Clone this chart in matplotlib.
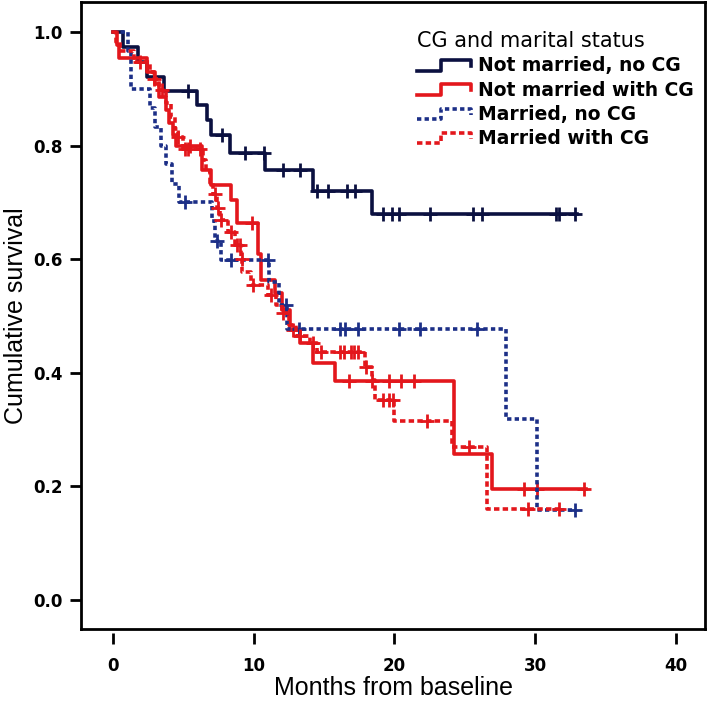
import numpy as np
from matplotlib import pyplot as plt
from matplotlib.legend_handler import HandlerBase
from matplotlib.lines import Line2D

# Kaplan-Meier steps (months, cumulative survival)
nm_nocg_t = [0, 0.7, 1.8, 2.4, 3.6, 5.95, 6.7, 7.0, 8.3, 10.8, 14.2, 18.4]
nm_nocg_s = [1.0, 0.974, 0.948, 0.921, 0.897, 0.871, 0.845, 0.819, 0.787, 0.757, 0.72, 0.68]
nm_nocg_end = 33.0
nm_nocg_cens = [5.35, 7.72, 9.4, 10.7, 12.1, 13.3, 14.5, 15.3, 16.6, 17.2,
                19.2, 19.8, 20.3, 22.5, 25.6, 26.2, 31.5, 31.7, 32.8]

nm_cg_t = [0, 0.3, 0.45, 2.4, 3.0, 3.3, 3.8, 4.0, 4.3, 4.5, 6.3, 7.0, 8.4, 8.8,
           10.3, 10.5, 11.5, 12.0, 12.6, 13.3, 14.2, 15.8, 24.2, 26.9]
nm_cg_s = [1.0, 0.977, 0.954, 0.93, 0.909, 0.886, 0.863, 0.84, 0.818, 0.80, 0.757, 0.73, 0.704, 0.663,
           0.61, 0.563, 0.54, 0.51, 0.475, 0.452, 0.417, 0.386, 0.258, 0.195]
nm_cg_end = 33.6
nm_cg_cens = [5.5, 9.86, 12.8, 16.8, 18.4, 19.6, 20.5, 21.4, 29.2, 30.1, 33.5]

m_nocg_t = [0, 1.1, 1.3, 2.6, 3.0, 3.4, 3.8, 4.2, 4.7, 7.05, 7.25, 7.7, 11.1, 11.8, 12.4, 27.9, 30.1]
m_nocg_s = [1.0, 0.967, 0.90, 0.867, 0.833, 0.80, 0.767, 0.733, 0.70, 0.667, 0.633, 0.598,
            0.56, 0.519, 0.478, 0.319, 0.159]
m_nocg_end = 32.8
m_nocg_cens = [5.1, 7.37, 8.4, 11.0, 12.3, 13.2, 16.1, 16.5, 17.4, 20.3, 21.8, 25.85, 32.8]

m_cg_t = [0, 0.25, 0.5, 1.5, 2.6, 2.9, 3.3, 3.8, 4.1, 4.4, 4.6, 5.0, 6.4, 6.6, 6.9, 7.1, 7.4,
          7.6, 8.2, 8.7, 9.1, 9.2, 9.8, 11.0, 11.6, 12.0, 12.5, 13.0, 14.0, 14.5, 17.9, 18.4,
          18.6, 20.0, 24.1, 26.6]
m_cg_s = [1.0, 0.983, 0.966, 0.948, 0.93, 0.918, 0.898, 0.875, 0.85, 0.83, 0.815, 0.795, 0.775,
          0.755, 0.735, 0.715, 0.69, 0.67, 0.648, 0.625, 0.60, 0.578, 0.555, 0.537, 0.52, 0.505,
          0.485, 0.465, 0.452, 0.437, 0.41, 0.387, 0.352, 0.315, 0.269, 0.161]
m_cg_end = 31.7
m_cg_cens = [1.9, 2.95, 3.46, 4.64, 5.1, 5.3, 6.2, 7.25, 7.45, 7.7, 8.4, 8.8, 9.0, 9.15, 9.97,
             11.2, 12.05, 13.3, 14.2, 14.8, 16.1, 16.4, 16.9, 17.1, 17.4, 18.0, 19.2, 19.6,
             19.9, 22.3, 25.3, 29.5, 31.7]

labels = ['Not married, no CG', 'Not married with CG', 'Married, no CG', 'Married with CG']
x_ticks = [0, 10, 20, 30, 40]
y_ticks = [0.0, 0.2, 0.4, 0.6, 0.8, 1.0]

navy = '#0b1040'
blue = '#1c2f87'
red = '#e3171c'


class StepHandler(HandlerBase):
    # legend glyph shaped like a survival step
    def create_artists(self, legend, orig_handle, xdescent, ydescent, width, height, fontsize, trans):
        xs = np.array([0, 0.45, 0.45, 1.0, 1.0]) * width - xdescent
        ys = np.array([0.05, 0.05, 0.85, 0.85, 0.4]) * height - ydescent
        line = Line2D(xs, ys)
        line.update_from(orig_handle)
        line.set_marker('None')
        line.set_transform(trans)
        return [line]


def km_plot(ax, t, s, end, cens, color, ls, dashes=None, label=None):
    x = list(t) + [end]
    y = list(s) + [s[-1]]
    ln, = ax.step(x, y, where='post', color=color, lw=2.6, ls=ls, label=label)
    if dashes is not None:
        ln.set_dashes(dashes)
    idx = np.searchsorted(t, cens, side='right') - 1
    ax.plot(cens, np.array(s)[idx], ls='none', marker='+', ms=10, mew=2, color=color)
    return ln


fig = plt.figure(figsize=(7.09, 7.06), dpi=100)
ax = fig.add_axes([81 / 709, 1 - 629 / 706, 624 / 709, 627 / 706])

h1 = km_plot(ax, nm_nocg_t, nm_nocg_s, nm_nocg_end, nm_nocg_cens, navy, '-', label=labels[0])
h2 = km_plot(ax, nm_cg_t, nm_cg_s, nm_cg_end, nm_cg_cens, red, '-', label=labels[1])
h3 = km_plot(ax, m_nocg_t, m_nocg_s, m_nocg_end, m_nocg_cens, blue, '--', dashes=(1.2, 0.9), label=labels[2])
h4 = km_plot(ax, m_cg_t, m_cg_s, m_cg_end, m_cg_cens, red, '--', dashes=(1.5, 0.9), label=labels[3])

ax.set_xlim(-2.27, 42.07)
ax.set_ylim(-0.051, 1.053)

for sp in ['left', 'top', 'right']:
    ax.spines[sp].set_linewidth(2)
# x ticks sit a little below the frame, so move the spine out and redraw the frame line
ax.spines['bottom'].set_position(('outward', 3))
ax.spines['bottom'].set_visible(False)
ax.plot([0, 1], [0, 0], transform=ax.transAxes, color='black', lw=2, clip_on=False)

ax.set_xticks(x_ticks)
ax.set_yticks(y_ticks)
ax.set_xticklabels([str(v) for v in x_ticks])
ax.set_yticklabels(['%.1f' % v for v in y_ticks])
ax.tick_params(axis='x', direction='out', length=8, width=2, pad=9, labelsize=12)
ax.tick_params(axis='y', direction='out', length=8, width=2, pad=5, labelsize=12)
for lab in ax.get_xticklabels() + ax.get_yticklabels():
    lab.set_fontweight('bold')

ax.set_xlabel('Months from baseline', fontsize=18, family=['Liberation Sans Narrow', 'Liberation Sans'], labelpad=1)
ax.set_ylabel('Cumulative survival', fontsize=18, family=['Liberation Sans Narrow', 'Liberation Sans'], labelpad=4)

leg = ax.legend(handles=[h1, h2, h3, h4], handler_map={Line2D: StepHandler()},
                loc='upper left', bbox_to_anchor=(417 / 709, 1 - 31 / 706), bbox_transform=fig.transFigure,
                frameon=False, title='CG and marital status', alignment='left',
                prop={'weight': 'bold', 'size': 13.5}, title_fontsize=15,
                handlelength=2.9, handletextpad=0.35, labelspacing=0.28, borderpad=0, borderaxespad=0)

fig.savefig('out.png', dpi=100)
